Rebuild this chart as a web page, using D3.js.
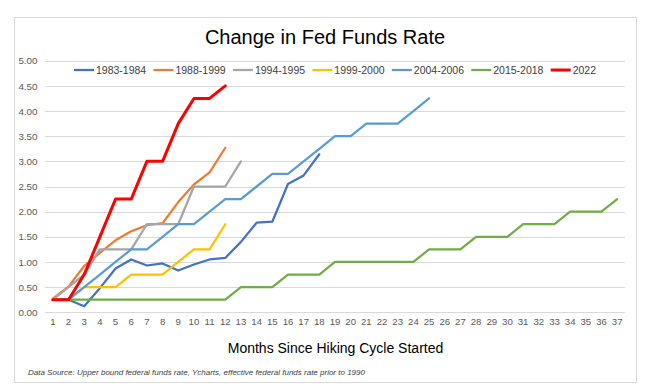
<!DOCTYPE html>
<html><head><meta charset="utf-8">
<script src="https://cdn.jsdelivr.net/npm/d3@7"></script>
<style>body{margin:0;background:#fff;}svg{display:block;font-family:"Liberation Sans",Arial,sans-serif;}</style>
</head><body><svg id="c" width="654" height="386"></svg>
<script>
const months = d3.range(1, 38);
const yTicks = [0, 0.5, 1, 1.5, 2, 2.5, 3, 3.5, 4, 4.5, 5];
const seriesNames = ["1983-1984","1988-1999","1994-1995","1999-2000","2004-2006","2015-2018","2022"];
const seriesColors = ["#4472C4","#ED7D31","#A5A5A5","#FFC000","#5B9BD5","#70AD47","#FF0000"];
const s1983 = [0.25,0.25,0.12,0.48,0.87,1.05,0.93,0.97,0.83,0.95,1.05,1.08,1.40,1.78,1.80,2.55,2.72,3.14];
const s1988 = [0.27,0.51,0.92,1.18,1.43,1.61,1.73,1.77,2.19,2.54,2.78,3.27];
const s1994 = [0.25,0.5,0.75,1.25,1.25,1.25,1.75,1.75,1.75,2.5,2.5,2.5,3.0];
const s1999 = [0.25,0.25,0.5,0.5,0.5,0.75,0.75,0.75,1.0,1.25,1.25,1.75];
const s2004 = [0.25,0.25,0.5,0.75,1.0,1.25,1.25,1.5,1.75,1.75,2.0,2.25,2.25,2.5,2.75,2.75,3.0,3.25,3.5,3.5,3.75,3.75,3.75,4.0,4.25];
const s2015 = [0.25,0.25,0.25,0.25,0.25,0.25,0.25,0.25,0.25,0.25,0.25,0.25,0.5,0.5,0.5,0.75,0.75,0.75,1.0,1.0,1.0,1.0,1.0,1.0,1.25,1.25,1.25,1.5,1.5,1.5,1.75,1.75,1.75,2.0,2.0,2.0,2.25];
const s2022 = [0.25,0.25,0.75,1.5,2.25,2.25,3.0,3.0,3.75,4.25,4.25,4.5];
const allSeries = [s1983,s1988,s1994,s1999,s2004,s2015,s2022];

const svg = d3.select("#c");
// chart border
svg.append("rect").attr("x",14.5).attr("y",17.5).attr("width",622).attr("height",365)
  .attr("fill","#fff").attr("stroke","#d9d9d9").attr("stroke-width",1);

const x = d3.scaleBand().domain(months).range([45, 625]);
const y = d3.scaleLinear().domain([0, 5]).range([312.3, 60.7]);

// gridlines
svg.append("g").selectAll("line").data(yTicks).join("line")
  .attr("x1",45).attr("x2",625)
  .attr("y1",d=>Math.round(y(d))+0.5).attr("y2",d=>Math.round(y(d))+0.5)
  .attr("stroke","#d9d9d9").attr("stroke-width",1);

// y axis labels
const yAxis = d3.axisLeft(y).tickValues(yTicks).tickFormat(d3.format(".2f")).tickSize(0).tickPadding(0);
const gy = svg.append("g").attr("transform","translate(37.5,0)").call(yAxis);
gy.select(".domain").remove();
gy.selectAll("text").attr("font-size","9.8px").attr("fill","#595959").attr("font-family","Liberation Sans, Arial, sans-serif");

// x axis labels
const xAxis = d3.axisBottom(x).tickSize(0).tickPadding(0);
const gx = svg.append("g").attr("transform","translate(0,318)").call(xAxis);
gx.select(".domain").remove();
gx.selectAll("text").attr("font-size","9.6px").attr("fill","#595959").attr("font-family","Liberation Sans, Arial, sans-serif");

// lines
const line = d3.line().x((d,i)=>x(months[i]) + x.bandwidth()/2).y(d=>y(d));
allSeries.forEach((s,i)=>{
  svg.append("path").attr("d", line(s)).attr("fill","none")
    .attr("stroke", seriesColors[i])
    .attr("stroke-width", i===6 ? 3 : 2.25)
    .attr("stroke-linejoin","round").attr("stroke-linecap","round");
});

// legend
const legStart = 74, legStep = 79.45, legY = 70;
seriesNames.forEach((n,i)=>{
  const lx = legStart + i*legStep;
  svg.append("line").attr("x1",lx).attr("x2",lx+20).attr("y1",legY).attr("y2",legY)
    .attr("stroke",seriesColors[i]).attr("stroke-width", i===6 ? 3 : 2.25);
  svg.append("text").attr("x",lx+22).attr("y",legY+3.8).text(n)
    .attr("font-size","10.5px").attr("fill","#404040");
});

// title
svg.append("text").attr("x",325).attr("y",44.3).attr("text-anchor","middle")
  .attr("font-size","20px").attr("fill","#000").text("Change in Fed Funds Rate");

// axis title
svg.append("text").attr("x",335.5).attr("y",353).attr("text-anchor","middle")
  .attr("font-size","14px").attr("fill","#000").text("Months Since Hiking Cycle Started");

// source
svg.append("text").attr("x",28).attr("y",375).attr("font-size","8px").attr("font-style","italic")
  .attr("fill","#404040").text("Data Source: Upper bound federal funds rate, Ycharts, effective federal funds rate prior to 1990");
</script></body></html>
